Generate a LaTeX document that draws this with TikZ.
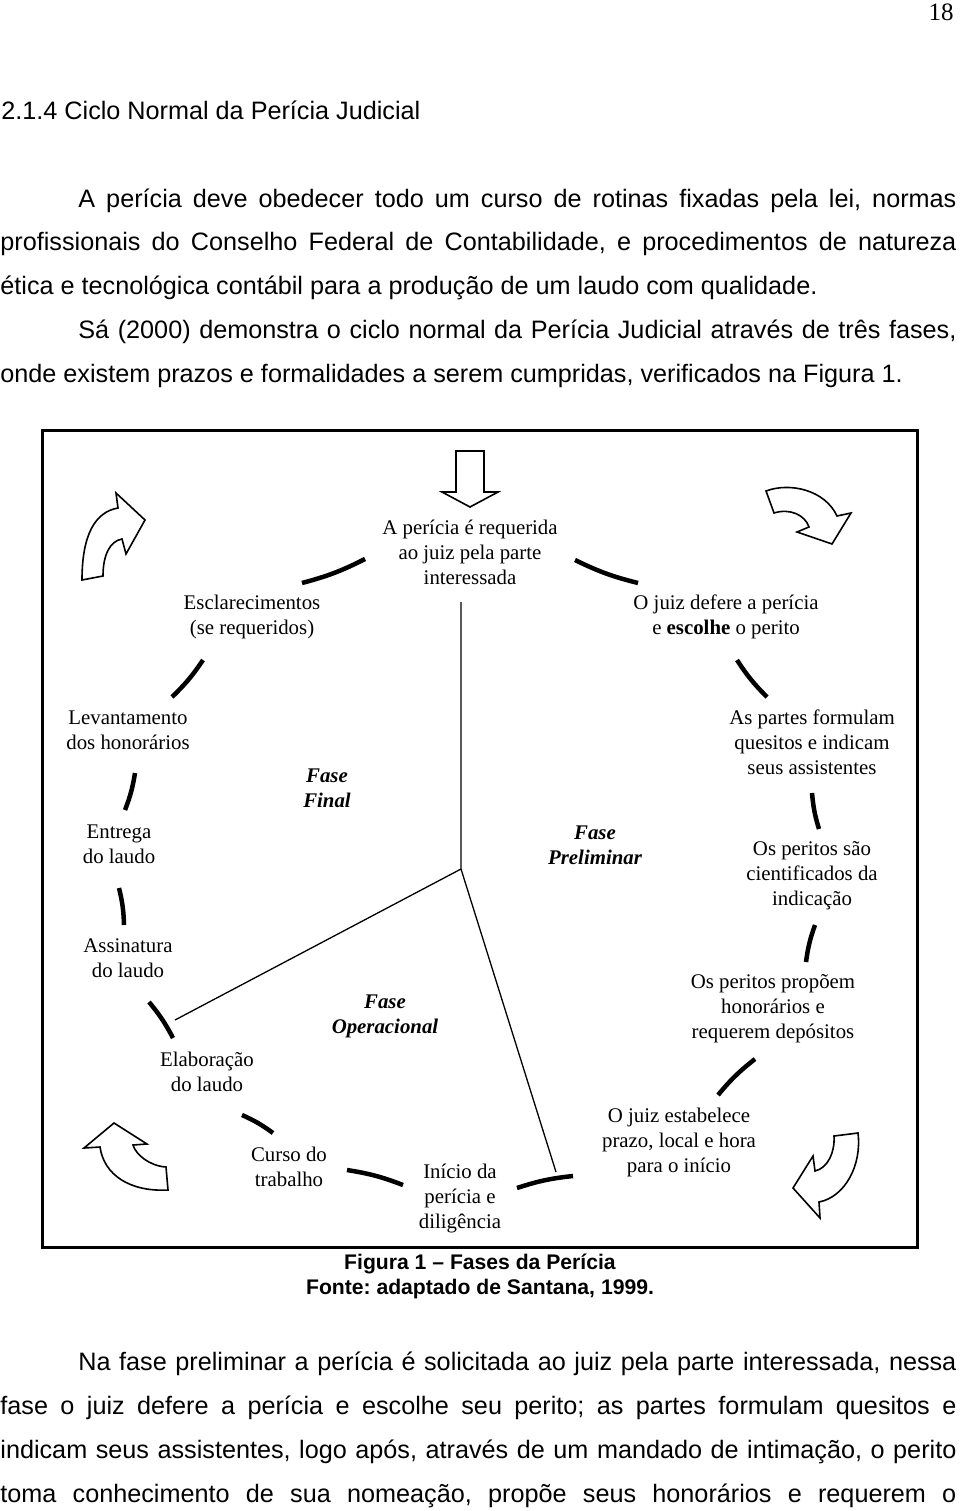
\documentclass[tikz,border=0pt]{standalone}
\usepackage{fontspec}
\setmainfont{Liberation Serif}
\newfontfamily\arialfont{Liberation Sans}
\usetikzlibrary{positioning}
\newlength\pxu
\setlength\pxu{0.48pt}
\frenchspacing

\begin{document}
\begin{tikzpicture}[
  x=\pxu, y=-\pxu,
  etapa/.style={align=center, inner sep=0pt,
                font=\fontsize{10pt}{12pt}\selectfont},
  fase/.style={etapa, font=\fontsize{10pt}{12pt}\selectfont\bfseries\itshape},
  elo/.style={line width=4.5\pxu, bend right=6},
  divisa/.style={line width=1.3\pxu},
  giro/.style={draw, line width=1.6\pxu, line join=miter},
  linha/.style={anchor=base west, inner sep=0pt,
                font=\arialfont\fontsize{12.1pt}{21pt}\selectfont},
  legenda/.style={align=center, inner sep=0pt,
                  font=\arialfont\bfseries\fontsize{10.15pt}{12pt}\selectfont},
]
\useasboundingbox (0,0) rectangle (960,1511);

%% ── Texto da página ─────────────────────────────────────────────────────
\node[anchor=base east, inner sep=0pt, font=\fontsize{12pt}{12pt}\selectfont]
  (pagina) at (954,21) {18};
\node[linha] (secao) at (1,120) {2.1.4 Ciclo Normal da Perícia Judicial};

\node[linha] (p1a) at (78,208)
  {\makebox[878\pxu][s]{A perícia deve obedecer todo um curso de rotinas fixadas pela lei, normas}};
\node[linha] (p1b) at (0,251)
  {\makebox[956\pxu][s]{profissionais do Conselho Federal de Contabilidade, e procedimentos de natureza}};
\node[linha] (p1c) at (0,295)
  {ética e tecnológica contábil para a produção de um laudo com qualidade.};
\node[linha] (p2a) at (78,339)
  {\makebox[878\pxu][s]{Sá (2000) demonstra o ciclo normal da Perícia Judicial através de três fases,}};
\node[linha] (p2b) at (0,383)
  {onde existem prazos e formalidades a serem cumpridas, verificados na Figura 1.};

%% ── Moldura da figura ───────────────────────────────────────────────────
\draw[line width=3\pxu] (42,431) rectangle (917,1247);

%% ── Etapas do ciclo ─────────────────────────────────────────────────────
\node[etapa] (requerida) at (470,552)
  {A perícia é requerida\\ao juiz pela parte\\interessada};
\node[etapa] (defere) at (726,617)
  {O juiz defere a perícia\\e \textbf{escolhe} o perito};
\node[etapa] (partes) at (812,742)
  {As partes formulam\\quesitos e indicam\\seus assistentes};
\node[etapa] (cientes) at (812,876)
  {Os peritos são\\cientificados da\\indicação};
\node[etapa] (propoem) at (773,1009)
  {Os peritos propõem\\honorários e\\requerem depósitos};
\node[etapa] (prazo) at (679,1142)
  {O juiz estabelece\\prazo, local e hora\\para o início};
\node[etapa] (inicio) at (460,1198) {Início da\\perícia e\\diligência};
\node[etapa] (curso) at (289,1167) {Curso do\\trabalho};
\node[etapa] (elaboracao) at (207,1072) {Elaboração\\do laudo};
\node[etapa] (assinatura) at (128,958) {Assinatura\\do laudo};
\node[etapa] (entrega) at (119,844) {Entrega\\do laudo};
\node[etapa] (levantamento) at (128,730) {Levantamento\\dos honorários};
\node[etapa] (esclarecimentos) at (252,617) {Esclarecimentos\\(se requeridos)};

%% ── Fases ───────────────────────────────────────────────────────────────
\node[fase] (final) at (327,788) {Fase\\Final};
\node[fase] (preliminar) at (595,845) {Fase\\Preliminar};
\node[fase] (operacional) at (385,1016) {Fase\\Operacional};

%% ── Divisões entre as fases ─────────────────────────────────────────────
\coordinate (centro) at (461,869);
\draw[divisa] (461,602) -- (centro) -- (175,1020);
\draw[divisa] (centro) -- (556,1172);

%% ── Elos do ciclo (sentido horário) ─────────────────────────────────────
\foreach \xa/\ya/\xb/\yb in {575/560/638/583, 737/660/767/697, 812/793/819/829,
                   815/925/806/962, 755/1059/718/1095, 573/1176/517/1188,
                   403/1185/347/1170, 273/1133/242/1115, 173/1038/149/1002,
                   124/925/119/888, 125/810/135/773, 172/697/203/660,
                   302/583/365/559}
  \draw[elo] (\xa,\ya) to (\xb,\yb);

%% ── Seta de entrada ─────────────────────────────────────────────────────
\draw[giro] (456,451) -- (484,451) -- (484,492) -- (498,492) -- (470,507)
  -- (442,492) -- (456,492) -- cycle;

%% ── Setas curvas dos cantos ─────────────────────────────────────────────
\draw[giro] (82,580) -- (103,576) .. controls (103,555) and (110,541) .. (122,539)
  -- (126,554) -- (145,520) -- (116,493) -- (118,508)
  .. controls (95,512) and (82,535) .. (82,580) -- cycle;
\draw[giro] (766,491) -- (774,513) .. controls (790,508) and (805,515) .. (809,527)
  -- (797,532) -- (832,544) -- (851,513) -- (837,516)
  .. controls (825,490) and (790,482) .. (766,491) -- cycle;
\draw[giro] (168,1190) -- (166,1167) .. controls (150,1166) and (136,1155) .. (133,1145)
  -- (147,1144) -- (114,1123) -- (84,1148) -- (100,1147)
  .. controls (104,1175) and (130,1192) .. (168,1190) -- cycle;
\draw[giro] (834,1136) -- (858,1133) .. controls (862,1165) and (845,1197) .. (819,1202)
  -- (820,1218) -- (793,1188) -- (813,1156) -- (815,1171)
  .. controls (828,1168) and (835,1152) .. (834,1136) -- cycle;

%% ── Legenda ─────────────────────────────────────────────────────────────
\node[legenda] (titulo) at (480,1276)
  {Figura 1 – Fases da Perícia\\Fonte: adaptado de Santana, 1999.};

%% ── Texto após a figura ─────────────────────────────────────────────────
\node[linha] (p3a) at (78,1370)
  {\makebox[878\pxu][s]{Na fase preliminar a perícia é solicitada ao juiz pela parte interessada, nessa}};
\node[linha] (p3b) at (0,1414)
  {\makebox[956\pxu][s]{fase o juiz defere a perícia e escolhe seu perito; as partes formulam quesitos e}};
\node[linha] (p3c) at (0,1458)
  {\makebox[956\pxu][s]{indicam seus assistentes, logo após, através de um mandado de intimação, o perito}};
\node[linha] (p3d) at (0,1502)
  {\makebox[956\pxu][s]{toma conhecimento de sua nomeação, propõe seus honorários e requerem o}};

\end{tikzpicture}
\end{document}
